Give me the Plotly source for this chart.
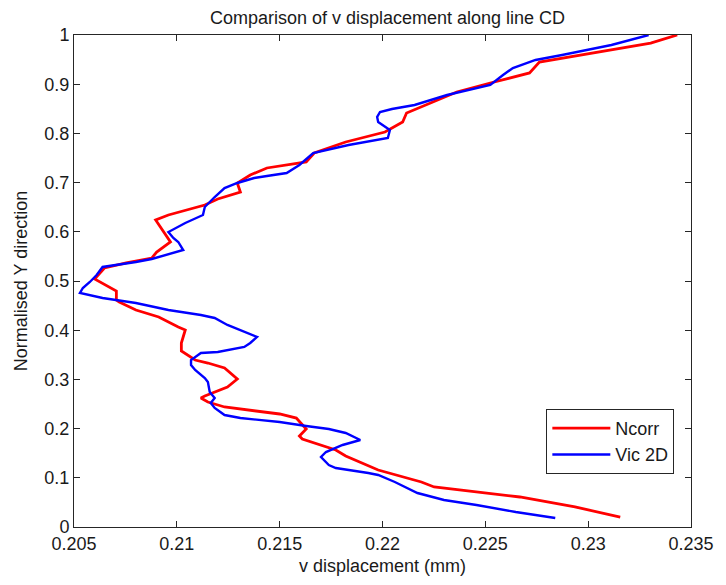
import plotly.graph_objects as go

# Ncorr series (v displacement in mm, normalised Y)
ncorr_v = [0.23156, 0.22936, 0.22668, 0.22457, 0.22251, 0.22189, 0.21979, 0.21821, 0.21773, 0.21610,
           0.21596, 0.21629, 0.21581, 0.21500, 0.21342, 0.21232, 0.21151, 0.21117, 0.21136, 0.21184,
           0.21246, 0.21294, 0.21261, 0.21232, 0.21151, 0.21089, 0.21022, 0.21022, 0.21041, 0.21007,
           0.20912, 0.20801, 0.20720, 0.20706, 0.20706, 0.20600, 0.20648, 0.20754, 0.20878, 0.20902,
           0.20969, 0.20921, 0.20897, 0.20959, 0.21136, 0.21199, 0.21309, 0.21294, 0.21357, 0.21438,
           0.21534, 0.21629, 0.21668, 0.21821, 0.22012, 0.22098, 0.22117, 0.22237, 0.22361, 0.22524,
           0.22715, 0.22763, 0.22955, 0.23194, 0.23304, 0.23433]
ncorr_y = [0.0203, 0.0407, 0.0610, 0.0711, 0.0813, 0.0915, 0.1159, 0.1443, 0.1565, 0.1789,
           0.1850, 0.1992, 0.2215, 0.2297, 0.2378, 0.2439, 0.2541, 0.2622, 0.2663, 0.2744,
           0.2846, 0.3008, 0.3130, 0.3232, 0.3333, 0.3394, 0.3577, 0.3740, 0.4004, 0.4065,
           0.4268, 0.4411, 0.4573, 0.4614, 0.4797, 0.5041, 0.5264, 0.5366, 0.5467, 0.5589,
           0.5793, 0.6077, 0.6240, 0.6341, 0.6545, 0.6667, 0.6809, 0.6992, 0.7154, 0.7297,
           0.7358, 0.7419, 0.7602, 0.7825, 0.8028, 0.8232, 0.8415, 0.8618, 0.8841, 0.9024,
           0.9228, 0.9451, 0.9593, 0.9756, 0.9837, 1.0]

# Vic 2D series
vic_v = [0.22840, 0.22648, 0.22457, 0.22299, 0.22170, 0.22122, 0.22060, 0.21979, 0.21931, 0.21773,
         0.21739, 0.21701, 0.21725, 0.21806, 0.21892, 0.21821, 0.21739, 0.21629, 0.21500, 0.21309,
         0.21232, 0.21184, 0.21165, 0.21184, 0.21160, 0.21151, 0.21136, 0.21089, 0.21069, 0.21069,
         0.21117, 0.21199, 0.21328, 0.21357, 0.21390, 0.21246, 0.21184, 0.21117, 0.20959, 0.20801,
         0.20639, 0.20529, 0.20543, 0.20577, 0.20610, 0.20639, 0.20706, 0.20801, 0.20878, 0.21031,
         0.21007, 0.20983, 0.20959, 0.21041, 0.21127, 0.21136, 0.21184, 0.21232, 0.21294, 0.21376,
         0.21438, 0.21534, 0.21596, 0.21663, 0.21835, 0.22026, 0.22036, 0.21979, 0.21974, 0.21988,
         0.22046, 0.22156, 0.22314, 0.22524, 0.22586, 0.22634, 0.22744, 0.22873, 0.23113, 0.23294]
vic_y = [0.0183, 0.0305, 0.0447, 0.0549, 0.0691, 0.0793, 0.0915, 0.1057, 0.1098, 0.1199,
         0.1260, 0.1423, 0.1524, 0.1667, 0.1768, 0.1911, 0.1992, 0.2053, 0.2134, 0.2215,
         0.2276, 0.2419, 0.2520, 0.2622, 0.2744, 0.2947, 0.3028, 0.3191, 0.3293, 0.3394,
         0.3537, 0.3557, 0.3659, 0.3740, 0.3862, 0.4106, 0.4248, 0.4309, 0.4411, 0.4553,
         0.4654, 0.4756, 0.4858, 0.4980, 0.5122, 0.5285, 0.5325, 0.5386, 0.5447, 0.5630,
         0.5793, 0.5874, 0.5996, 0.6179, 0.6341, 0.6504, 0.6707, 0.6890, 0.6992, 0.7093,
         0.7134, 0.7195, 0.7358, 0.7602, 0.7764, 0.7907, 0.8069, 0.8232, 0.8333, 0.8435,
         0.8496, 0.8577, 0.8780, 0.8984, 0.9187, 0.9329, 0.9492, 0.9593, 0.9797, 1.0]

x_ticks = [0.205, 0.21, 0.215, 0.22, 0.225, 0.23, 0.235]
x_tick_text = ["0.205", "0.21", "0.215", "0.22", "0.225", "0.23", "0.235"]
y_ticks = [0, 0.1, 0.2, 0.3, 0.4, 0.5, 0.6, 0.7, 0.8, 0.9, 1.0]
y_tick_text = ["0", "0.1", "0.2", "0.3", "0.4", "0.5", "0.6", "0.7", "0.8", "0.9", "1"]

FONT = "Liberation Sans"
TXT = "#1a1a1a"
FS = 18

fig = go.Figure()
fig.add_trace(go.Scatter(x=ncorr_v, y=ncorr_y, mode="lines", name="Ncorr",
                         line=dict(color="#ff0000", width=2.8)))
fig.add_trace(go.Scatter(x=vic_v, y=vic_y, mode="lines", name="Vic 2D",
                         line=dict(color="#0000ff", width=2.4)))

axis_common = dict(showline=True, linecolor="#262626", linewidth=1, mirror="ticks",
                   ticks="inside", ticklen=6, tickcolor="#262626", showgrid=False,
                   zeroline=False, tickfont=dict(family=FONT, size=FS, color=TXT))

fig.update_layout(
    width=726, height=585,
    margin=dict(l=74, r=25, t=35, b=58),
    paper_bgcolor="white", plot_bgcolor="white",
    title=dict(text="Comparison of v displacement along line CD", x=0.5338, xanchor="center",
               y=0.969, yanchor="middle", font=dict(family=FONT, size=FS, color=TXT)),
    xaxis=dict(range=[0.205, 0.235], tickvals=x_ticks, ticktext=x_tick_text,
               title=dict(text="v displacement (mm)", font=dict(family=FONT, size=FS, color=TXT),
                          standoff=6), **axis_common),
    yaxis=dict(range=[0, 1], tickvals=y_ticks, ticktext=y_tick_text,
               title=dict(text="Normalised Y direction", font=dict(family=FONT, size=FS, color=TXT),
                          standoff=12), **axis_common),
    legend=dict(x=0.973, y=0.108, xanchor="right", yanchor="bottom",
                bgcolor="white", bordercolor="#262626", borderwidth=1, itemwidth=58,
                font=dict(family=FONT, size=FS, color=TXT)),
    showlegend=True,
)

fig.write_html("out.html")
